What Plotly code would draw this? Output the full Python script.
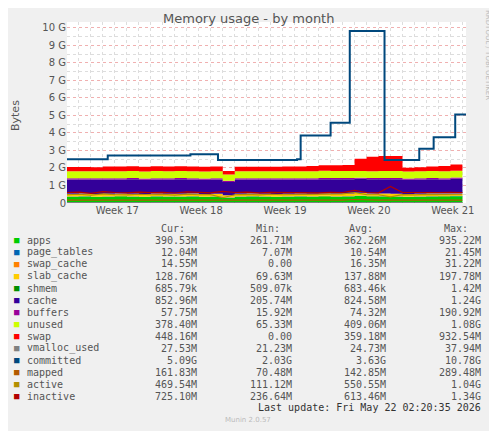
import plotly.graph_objects as go

# days since start of the month window
days = list(range(0, 34))

apps = [0.36, 0.37, 0.35, 0.36, 0.38, 0.36, 0.35, 0.37, 0.36, 0.36, 0.37, 0.35, 0.36, 0.30, 0.36, 0.37,
        0.36, 0.35, 0.36, 0.37, 0.36, 0.38, 0.36, 0.37, 0.40, 0.38, 0.37, 0.36, 0.35, 0.36, 0.37, 0.38, 0.39, 0.39]
page_tables = [0.012] * 34
swap_cache = [0.016] * 34
slab_cache = [0.14, 0.14, 0.13, 0.14, 0.14, 0.14, 0.13, 0.14, 0.14, 0.14, 0.14, 0.13, 0.14, 0.12, 0.14, 0.14,
              0.14, 0.13, 0.14, 0.14, 0.14, 0.14, 0.14, 0.14, 0.15, 0.14, 0.14, 0.14, 0.13, 0.14, 0.14, 0.14, 0.13, 0.13]
shmem = [0.0007] * 34
cache = [0.82, 0.80, 0.83, 0.82, 0.79, 0.83, 0.82, 0.81, 0.82, 0.83, 0.80, 0.82, 0.82, 0.75, 0.82, 0.81,
         0.82, 0.83, 0.82, 0.80, 0.82, 0.81, 0.83, 0.82, 0.80, 0.81, 0.82, 0.83, 0.82, 0.81, 0.82, 0.80, 0.84, 0.85]
buffers = [0.07] * 34
unused = [0.40, 0.41, 0.40, 0.39, 0.41, 0.40, 0.40, 0.41, 0.40, 0.40, 0.41, 0.40, 0.40, 0.36, 0.40, 0.40,
          0.40, 0.41, 0.40, 0.40, 0.40, 0.41, 0.40, 0.40, 0.38, 0.39, 0.40, 0.40, 0.40, 0.40, 0.40, 0.40, 0.38, 0.38]
swap = [0.24, 0.24, 0.24, 0.27, 0.27, 0.27, 0.27, 0.27, 0.27, 0.27, 0.27, 0.27, 0.27, 0.20, 0.25, 0.25,
        0.25, 0.25, 0.26, 0.28, 0.30, 0.32, 0.33, 0.34, 0.70, 0.82, 0.85, 0.86, 0.22, 0.24, 0.26, 0.30, 0.36, 0.42]
vmalloc_used = [0.027] * 34

committed_days = [0, 3.4, 10.3, 12.4, 12.6, 19.2, 19.5, 21.8, 22.0, 23.3, 23.6, 26.3, 26.5, 29.2, 29.4, 30.4, 30.6, 32.2, 32.4, 33.3]
committed = [2.50, 2.72, 2.78, 2.78, 2.45, 2.50, 3.85, 3.85, 4.58, 4.58, 9.82, 9.82, 2.45, 2.45, 3.10, 3.10, 3.75, 3.75, 5.05, 5.05]

mapped = [0.16, 0.16, 0.15, 0.17, 0.16, 0.16, 0.15, 0.16, 0.17, 0.16, 0.16, 0.15, 0.16, 0.14, 0.16, 0.16,
          0.16, 0.15, 0.16, 0.16, 0.17, 0.16, 0.16, 0.16, 0.20, 0.16, 0.16, 0.16, 0.15, 0.16, 0.16, 0.16, 0.16, 0.16]
active = [0.47, 0.50, 0.45, 0.52, 0.48, 0.46, 0.50, 0.47, 0.49, 0.45, 0.51, 0.47, 0.48, 0.30, 0.47, 0.49,
          0.46, 0.50, 0.47, 0.48, 0.46, 0.49, 0.47, 0.52, 0.60, 0.48, 0.47, 0.35, 0.48, 0.46, 0.49, 0.47, 0.48, 0.47]
inactive = [0.60, 0.62, 0.55, 0.65, 0.60, 0.58, 0.62, 0.59, 0.61, 0.57, 0.63, 0.60, 0.58, 0.66, 0.60, 0.62,
            0.58, 0.61, 0.60, 0.59, 0.62, 0.58, 0.61, 0.60, 0.72, 0.60, 0.58, 0.95, 0.60, 0.59, 0.62, 0.60, 0.61, 0.60]

week_pos = [4.2, 11.2, 18.2, 25.2, 32.2]
week_labels = ["Week 17", "Week 18", "Week 19", "Week 20", "Week 21"]

legend_rows = [
    ("apps", "#00CC00", "390.53M", "261.71M", "362.26M", "935.22M"),
    ("page_tables", "#0066B3", "12.04M", "7.07M", "10.54M", "21.45M"),
    ("swap_cache", "#FF8000", "14.55M", "0.00", "16.35M", "31.22M"),
    ("slab_cache", "#FFCC00", "128.76M", "69.63M", "137.88M", "197.78M"),
    ("shmem", "#008F00", "685.79k", "509.07k", "683.46k", "1.42M"),
    ("cache", "#330099", "852.96M", "205.74M", "824.58M", "1.24G"),
    ("buffers", "#990099", "57.75M", "15.92M", "74.32M", "190.92M"),
    ("unused", "#CCFF00", "378.40M", "65.33M", "409.06M", "1.08G"),
    ("swap", "#FF0000", "448.16M", "0.00", "359.18M", "932.54M"),
    ("vmalloc_used", "#808080", "27.53M", "21.23M", "24.73M", "37.94M"),
    ("committed", "#00487D", "5.09G", "2.03G", "3.63G", "10.78G"),
    ("mapped", "#B35A00", "161.83M", "70.48M", "142.85M", "289.48M"),
    ("active", "#B38F00", "469.54M", "111.12M", "550.55M", "1.04G"),
    ("inactive", "#B30000", "725.10M", "236.64M", "613.46M", "1.34G"),
]

fig = go.Figure()

stack = [("apps", apps, "#00CC00"), ("page_tables", page_tables, "#0066B3"), ("swap_cache", swap_cache, "#FF8000"),
         ("slab_cache", slab_cache, "#FFCC00"), ("shmem", shmem, "#008F00"), ("cache", cache, "#330099"),
         ("buffers", buffers, "#990099"), ("unused", unused, "#CCFF00"), ("swap", swap, "#FF0000")]
for name, vals, col in stack:
    fig.add_trace(go.Scatter(x=days, y=vals, name=name, stackgroup="mem", mode="lines", line=dict(width=0, color=col),
                             fillcolor=col, line_shape="hv"))

fig.add_trace(go.Scatter(x=days, y=vmalloc_used, mode="lines", line=dict(color="#808080", width=1), line_shape="hv"))
fig.add_trace(go.Scatter(x=days, y=mapped, mode="lines", line=dict(color="#B35A00", width=1.2)))
fig.add_trace(go.Scatter(x=days, y=active, mode="lines", line=dict(color="#B38F00", width=1.2)))
fig.add_trace(go.Scatter(x=days, y=inactive, mode="lines", line=dict(color="#B30000", width=1.2)))
fig.add_trace(go.Scatter(x=committed_days, y=committed, mode="lines", line=dict(color="#00487D", width=2), line_shape="hv"))

# helpers: reference-screenshot pixels -> paper coords
def px(x):
    return (x - 67) / 399.0

def py(y):
    return (203 - y) / 181.0

mono = "DejaVu Sans Mono"
grey = "#555555"
anns = [
    dict(text="Memory usage - by month", x=px(248), y=py(18), font=dict(size=13, color=grey, family="DejaVu Sans")),
    dict(text="Bytes", x=px(15), y=py(116), textangle=-90, font=dict(size=11, color=grey, family="DejaVu Sans")),
    dict(text="RRDTOOL / TOBI OETIKER", x=px(488), y=py(55), textangle=90, font=dict(size=7, color="#BBBBBB", family="DejaVu Sans")),
]
for txt, xr in [("Cur:", 187), ("Min:", 282), ("Avg:", 375), ("Max:", 470)]:
    anns.append(dict(text=txt, x=px(xr), y=py(228), xanchor="right", font=dict(size=10, color=grey, family=mono)))
for i, (nm, col, cur, mn, avg, mx) in enumerate(legend_rows):
    yy = py(240 + 12 * i)
    anns.append(dict(text="■", x=px(12), y=yy, xanchor="left", font=dict(size=9, color=col, family=mono)))
    anns.append(dict(text=nm, x=px(25), y=yy, xanchor="left", font=dict(size=10, color=grey, family=mono)))
    for v, xr in [(cur, 199), (mn, 294), (avg, 388), (mx, 483)]:
        anns.append(dict(text=v, x=px(xr), y=yy, xanchor="right", font=dict(size=10, color=grey, family=mono)))
anns.append(dict(text="Last update: Fri May 22 02:20:35 2026", x=px(483), y=py(407), xanchor="right",
                 font=dict(size=10, color="#333333", family=mono)))
anns.append(dict(text="Munin 2.0.57", x=px(248), y=py(420), font=dict(size=7, color="#BBBBBB", family="DejaVu Sans")))
for a in anns:
    a.update(xref="paper", yref="paper", showarrow=False)
    a.setdefault("xanchor", "center")
    a["yanchor"] = "middle"

fig.update_layout(
    width=497, height=431, showlegend=False,
    margin=dict(l=59, r=39, t=14, b=236),
    paper_bgcolor="#F0F0F0", plot_bgcolor="white",
    annotations=anns,
    xaxis=dict(range=[0, 33.3], tickvals=week_pos, ticktext=week_labels, showgrid=False, zeroline=False,
               tickfont=dict(size=10, color=grey, family="DejaVu Sans"), ticks="",
               minor=dict(dtick=1, tick0=0, showgrid=True, gridcolor="#DDDDDD", griddash="dot")),
    yaxis=dict(range=[0, 10.34], tickvals=list(range(11)),
               ticktext=["0"] + ["%d G" % i for i in range(1, 11)],
               gridcolor="#F0B0B0", griddash="dot", zeroline=False,
               tickfont=dict(size=10, color=grey, family="DejaVu Sans"),
               minor=dict(dtick=0.5, showgrid=True, gridcolor="#DDDDDD", griddash="dot")),
)

fig.write_html("out.html")
